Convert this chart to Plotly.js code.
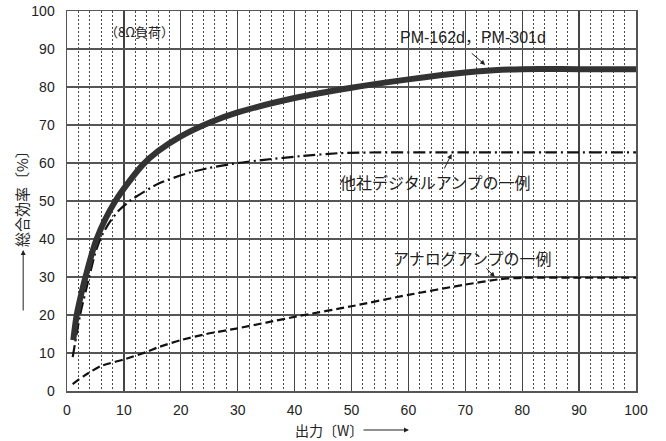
<!DOCTYPE html>
<html>
<head>
<meta charset="utf-8">
<script src="https://cdn.plot.ly/plotly-3.0.1.min.js"></script>
<style>html,body{margin:0;padding:0;background:#fff;}</style>
</head>
<body>
<div id="chart" style="width:666px;height:441px;"></div>
<script>
// Output power [W] vs. total efficiency [%]
const pmX = [1.1, 1.7, 2.5, 3.3, 5.2, 8.5, 13.3, 16, 20, 25, 30, 40, 50, 60, 70, 75, 80, 90, 100];
const pmY = [13.4, 20, 25.5, 30.3, 40, 50, 59.5, 63.1, 67, 70.6, 73.3, 77.1, 79.8, 82, 83.8, 84.4, 84.7, 84.7, 84.7];

const digitalX = [1, 2.3, 3.9, 5, 6, 7.3, 9.1, 11.2, 16.1, 21.6, 25, 30, 35, 41, 48, 55, 70, 100];
const digitalY = [8.9, 20, 30, 36.5, 40.5, 44, 47.5, 50.2, 54.6, 57.5, 58.7, 60, 60.9, 61.8, 62.6, 62.8, 62.8, 62.8];

const analogX = [1, 3, 6, 10, 14, 16, 20, 24.5, 30, 35, 41, 50, 60, 70, 76, 80, 90, 100];
const analogY = [1.8, 4.0, 6.6, 8.3, 10.3, 11.5, 13.4, 15, 16.5, 18, 19.8, 22.3, 25.3, 28, 29.4, 29.8, 29.8, 29.8];

const labelPM = "PM-162d，PM-301d";
const labelDigital = "他社デジタルアンプの一例";
const labelAnalog = "アナログアンプの一例";
const labelLoad = "（8Ω負荷）";
const xTitle = "出力〔W〕";
const yTitle = "総合効率〔%〕";

const FONT = "Liberation Sans, Arial, Noto Sans CJK JP, sans-serif";
const JFONT = "Noto Sans CJK JP, Liberation Sans, sans-serif";

const traces = [
  {x: analogX, y: analogY, mode: 'lines', line: {color: '#111', width: 2.2, dash: '8px,4px', shape: 'spline', smoothing: 0.6}, hoverinfo: 'skip'},
  {x: digitalX, y: digitalY, mode: 'lines', line: {color: '#111', width: 2.2, dash: '12px,4px,2px,4px', shape: 'spline', smoothing: 0.6}, hoverinfo: 'skip'},
  {x: pmX, y: pmY, mode: 'lines', line: {color: '#333', width: 6, shape: 'spline', smoothing: 0.8}, hoverinfo: 'skip'}
];

function arrow(x, y, ax, ay) {
  return {x: x, y: y, xref: 'x', yref: 'y', text: '', showarrow: true, ax: ax, ay: ay,
          arrowhead: 2, arrowsize: 1, arrowwidth: 1, arrowcolor: '#222', standoff: 0};
}
function label(x, y, text, size, family) {
  return {x: x, y: y, xref: 'x', yref: 'y', text: text, showarrow: false,
          xanchor: 'center', yanchor: 'middle', font: {family: family, size: size, color: '#222'}};
}

const layout = {
  width: 666, height: 441,
  margin: {l: 67, r: 30, t: 11, b: 50},
  paper_bgcolor: '#fff', plot_bgcolor: '#fff',
  showlegend: false,
  font: {family: FONT, size: 14, color: '#222'},
  xaxis: {
    range: [0, 100], dtick: 10, tick0: 0, fixedrange: true,
    showgrid: true, gridcolor: '#444', gridwidth: 1.2,
    zeroline: false, showline: true, linecolor: '#555', linewidth: 1.5, mirror: true,
    ticks: '', ticklabelstandoff: 6,
    tickfont: {family: FONT, size: 14, color: '#222'},
    minor: {dtick: 2, tick0: 0, showgrid: true, gridcolor: '#333', gridwidth: 0.9, griddash: '2px,2px'}
  },
  yaxis: {
    range: [0, 100], dtick: 10, tick0: 0, fixedrange: true,
    showgrid: true, gridcolor: '#555', gridwidth: 1.2,
    zeroline: false, showline: true, linecolor: '#555', linewidth: 1.5, mirror: true,
    ticks: '', ticklabelstandoff: 8,
    tickfont: {family: FONT, size: 14, color: '#222'}
  },
  annotations: [
    label(12.8, 94.5, labelLoad, 13, JFONT),
    label(71.3, 93.0, labelPM, 16, FONT),
    arrow(73.5, 85.8, -15, -13),
    label(64.8, 55.0, labelDigital, 16, JFONT),
    arrow(67.6, 62.4, -8, 16),
    label(71.35, 34.9, labelAnalog, 16, JFONT),
    arrow(75.2, 30.0, -10, -10),
    {x: 0.4596, y: -0.1026, xref: 'paper', yref: 'paper', text: xTitle, showarrow: false,
     xanchor: 'center', yanchor: 'middle', font: {family: JFONT, size: 14, color: '#222'}},
    {x: 0.601, y: -0.1026, xref: 'paper', yref: 'paper', text: '', showarrow: true,
     ax: -47, ay: 0, arrowhead: 2, arrowsize: 1, arrowwidth: 1, arrowcolor: '#222'},
    {x: -0.079, y: 0.516, xref: 'paper', yref: 'paper', text: yTitle, showarrow: false,
     textangle: -90, xanchor: 'center', yanchor: 'middle', font: {family: JFONT, size: 15, color: '#222'}},
    {x: -0.077, y: 0.371, xref: 'paper', yref: 'paper', text: '', showarrow: true,
     ax: 0, ay: 62, arrowhead: 2, arrowsize: 1, arrowwidth: 1, arrowcolor: '#222'}
  ]
};

Plotly.newPlot('chart', traces, layout, {displayModeBar: false, staticPlot: true});
</script>
</body>
</html>
